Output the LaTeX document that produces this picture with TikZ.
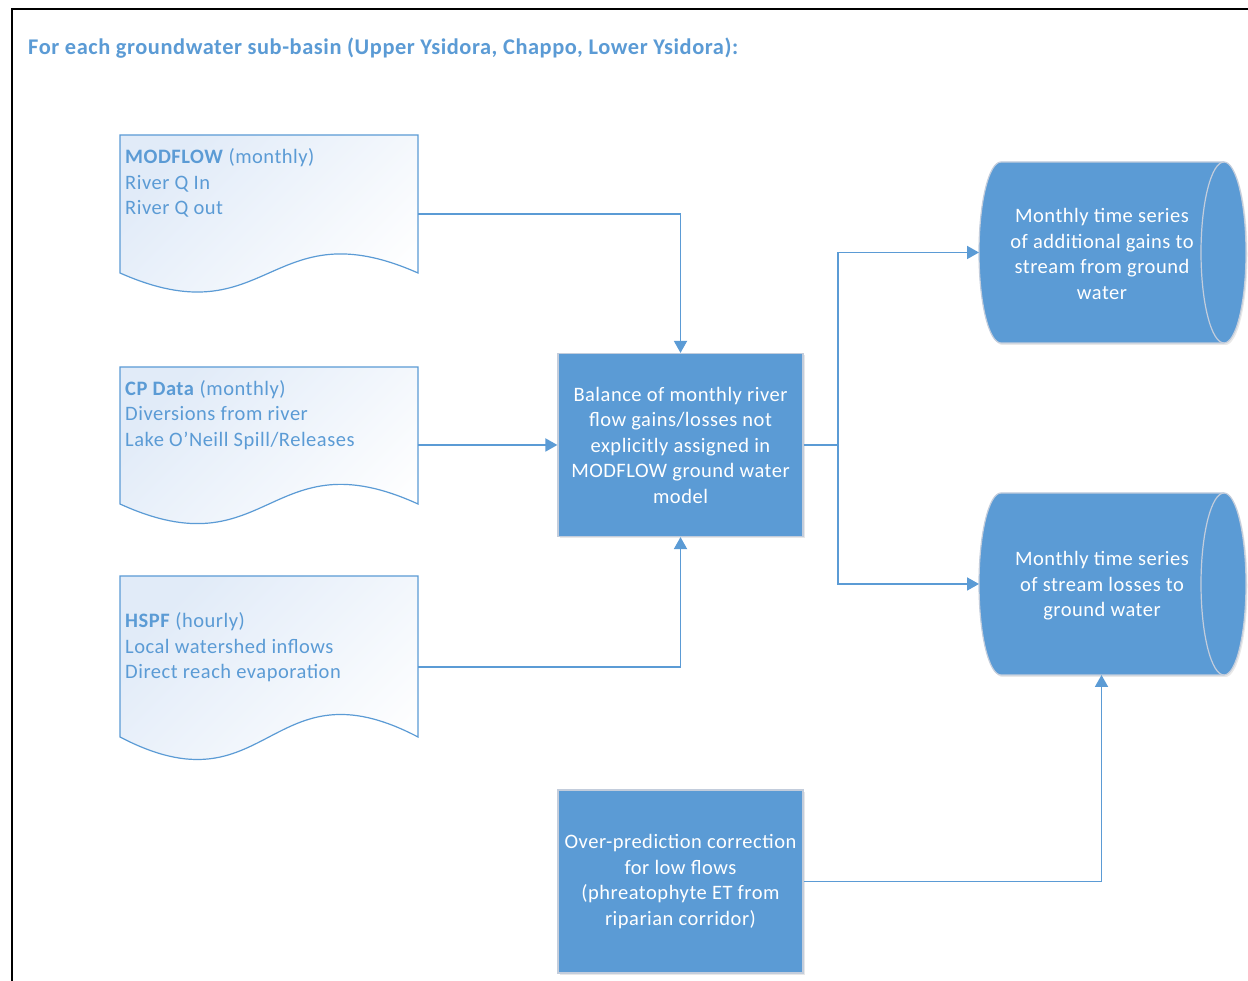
\documentclass[tikz,border=0pt]{standalone}
\usepackage{fontspec}
\setmainfont{Carlito}[LetterSpace=2.5]
\usetikzlibrary{arrows.meta,shadows,calc}
\definecolor{cblue}{RGB}{91,155,213}
\definecolor{cedge}{RGB}{195,205,220}
\definecolor{docfill}{RGB}{225,235,248}
\begin{document}
\begin{tikzpicture}[x=1pt,y=1pt,
  conn/.style={draw=cblue, line width=1.8pt},
  arr/.style={conn, -{Triangle[length=12pt,width=13pt]}},
  docshape/.style={draw=cblue, line width=1.2pt, top color=docfill, bottom color=white, shading angle=45},
  holder/.style={inner sep=0pt, outer sep=0pt},
  doctext/.style={anchor=base west, align=left, text=cblue, inner sep=0pt, font=\fontsize{20.5}{25.5}\selectfont},
  bluebox/.style={fill=cblue, draw=cedge, line width=1.2pt, text=white, align=center, inner sep=0pt,
     font=\fontsize{20.5}{25.5}\selectfont, drop shadow={opacity=0.18, shadow xshift=1.5pt, shadow yshift=-2pt}},
  cylshape/.style={fill=cblue, draw=cedge, line width=1.2pt, drop shadow={opacity=0.18, shadow xshift=1.5pt, shadow yshift=-2pt}},
  cyltext/.style={text=white, align=center, inner sep=0pt, font=\fontsize{20.5}{25.5}\selectfont},
]
\useasboundingbox (0,0) rectangle (1248,981);
\fill[white] (0,0) rectangle (1248,981);

% frame
\draw[black, line width=1.2pt] (12,0) -- (12,972) -- (1248,972);

% title
\node[anchor=base west, inner sep=0pt, text=cblue, font=\bfseries\fontsize{22.4}{26}\selectfont] (title) at (28,926)
  {For each groundwater sub-basin (Upper Ysidora, Chappo, Lower Ysidora):};

% documents
\node[holder, minimum width=298pt, minimum height=138pt] (doc1) at (269,777) {};
\path[docshape] (doc1.north west) -- (doc1.north east) -- (doc1.south east)
  .. controls ($(doc1.south)+(0,66)$) and ($(doc1.south)+(0,-66)$) .. (doc1.south west) -- cycle;
\node[doctext] (t1) at (125,766) {\textbf{MODFLOW} (monthly)\\River Q In\\River Q out};

\node[holder, minimum width=298pt, minimum height=137pt] (doc2) at (269,545.5) {};
\path[docshape] (doc2.north west) -- (doc2.north east) -- (doc2.south east)
  .. controls ($(doc2.south)+(0,68)$) and ($(doc2.south)+(0,-68)$) .. (doc2.south west) -- cycle;
\node[doctext] (t2) at (125,534.5) {\textbf{CP Data} (monthly)\\Diversions from river\\Lake O’Neill Spill/Releases};

\node[holder, minimum width=298pt, minimum height=161pt] (doc3) at (269,324.5) {};
\path[docshape] (doc3.north west) -- (doc3.north east) -- (doc3.south east)
  .. controls ($(doc3.south)+(0,78)$) and ($(doc3.south)+(0,-78)$) .. (doc3.south west) -- cycle;
\node[doctext] (t3) at (125,302) {\textbf{HSPF} (hourly)\\Local watershed inflows\\Direct reach evaporation};

% process boxes
\node[bluebox, minimum width=245pt, minimum height=183pt] (bal) at (680.5,536)
  {Balance of monthly river\\flow gains/losses not\\explicitly assigned in\\MODFLOW ground water\\model};
\node[bluebox, minimum width=245pt, minimum height=183pt] (corr) at (680.5,99.5)
  {Over-prediction correction\\for low flows\\(phreatophyte ET from\\riparian corridor)};

% storage cylinders
\node[holder, minimum width=245pt, minimum height=181pt] (cyl1) at (1101.5,728.5) {};
\path[cylshape] (1001,819) -- (1224,819) arc[start angle=90,end angle=-90,x radius=22,y radius=90.5]
  -- (1001,638) arc[start angle=270,end angle=90,x radius=22,y radius=90.5] -- cycle;
\draw[cedge, line width=1.2pt] (1224,819) arc[start angle=90,end angle=270,x radius=23,y radius=90.5];
\node[cyltext] (c1) at (1102,727) {Monthly time series\\of additional gains to\\stream from ground\\water};

\node[holder, minimum width=245pt, minimum height=182pt] (cyl2) at (1101.5,397) {};
\path[cylshape] (1001,488) -- (1224,488) arc[start angle=90,end angle=-90,x radius=22,y radius=91]
  -- (1001,306) arc[start angle=270,end angle=90,x radius=22,y radius=91] -- cycle;
\draw[cedge, line width=1.2pt] (1224,488) arc[start angle=90,end angle=270,x radius=23,y radius=91];
\node[cyltext] (c2) at (1102,395) {Monthly time series\\of stream losses to\\ground water};

% connectors
\coordinate (d1out) at (418,767);
\coordinate (d3out) at (418,314);
\coordinate (j) at (838,536);
\draw[arr] (d1out) -| (bal.north);
\draw[arr] (doc2.east |- bal.west) -- (bal.west);
\draw[arr] (d3out) -| (bal.south);
\draw[conn] (bal.east) -- (j);
\draw[conn] (j) |- (838,728.5);
\draw[arr] (j) |- (cyl1.west);
\draw[arr] (j) |- (cyl2.west);
\draw[arr] (corr.east) -| (cyl2.south);
\end{tikzpicture}
\end{document}
